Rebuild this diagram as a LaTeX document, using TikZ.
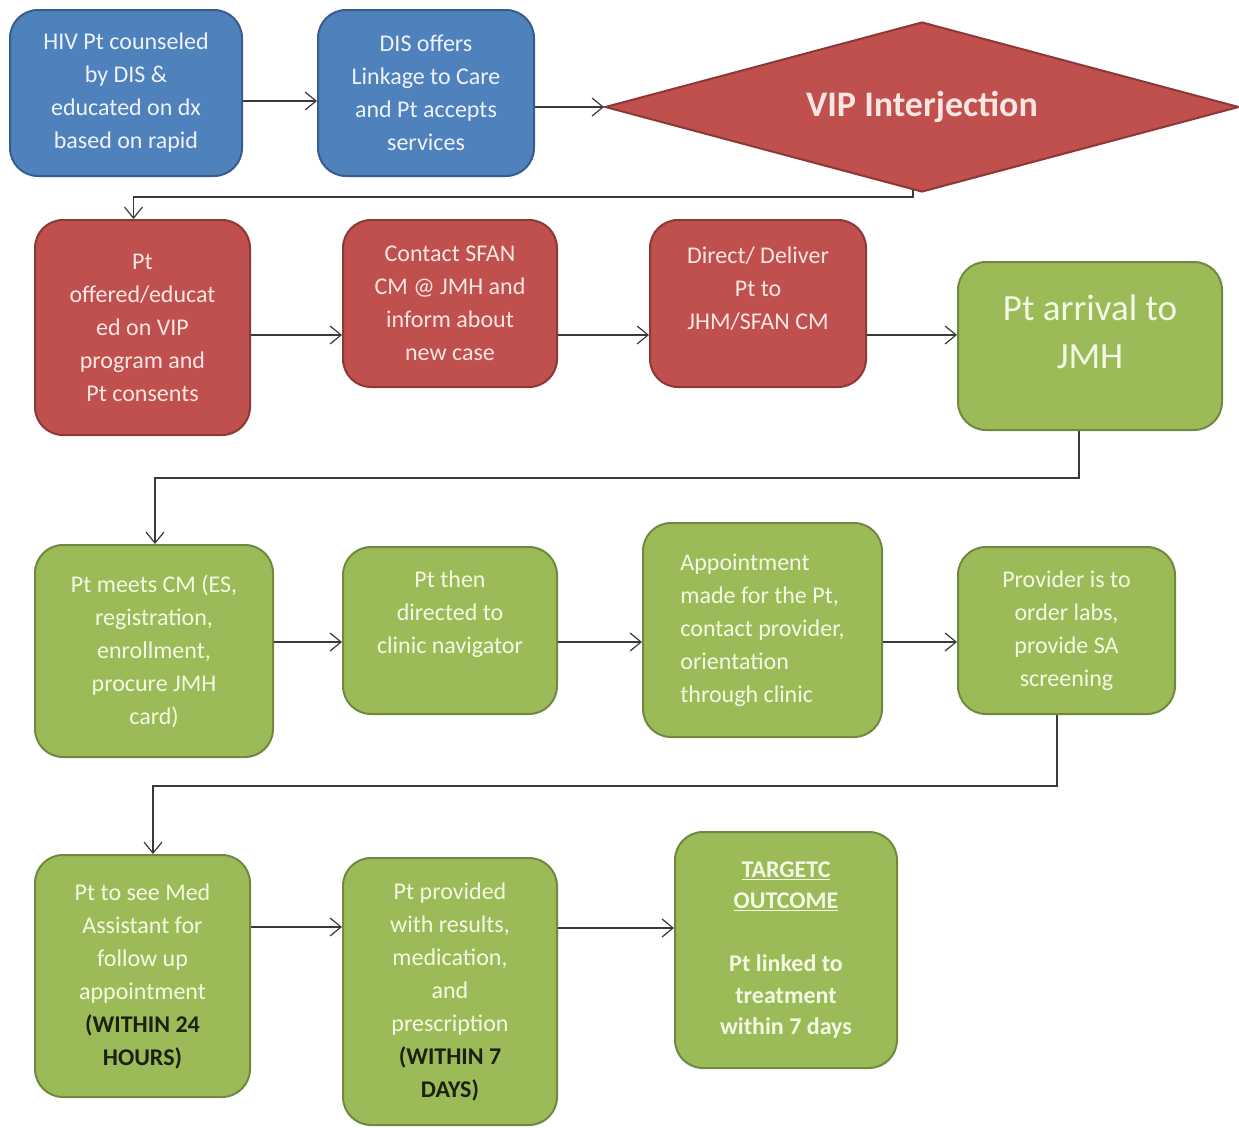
\documentclass[tikz,border=0pt]{standalone}
\usepackage{fontspec}
\setmainfont{Carlito}
\usetikzlibrary{arrows.meta,shapes.geometric}
\definecolor{bluefill}{HTML}{4F81BD}
\definecolor{blueline}{HTML}{385D8A}
\definecolor{bluetext}{HTML}{EEF3FB}
\definecolor{redfill}{HTML}{C0504D}
\definecolor{redline}{HTML}{8C3836}
\definecolor{redtext}{HTML}{FCE6E4}
\definecolor{greenfill}{HTML}{9BBB59}
\definecolor{greenline}{HTML}{71893F}
\definecolor{greentext}{HTML}{F4F9E4}
\definecolor{darktext}{HTML}{1C200F}
\definecolor{arrowgray}{HTML}{3A3A3A}
\begin{document}
\begin{tikzpicture}[x=1pt,y=-1pt,
  box/.style={draw, line width=2pt, rounded corners=28pt, align=center, inner sep=0pt,
    font=\fontsize{24}{33}\selectfont},
  bluebox/.style={box, fill=bluefill, draw=blueline, text=bluetext},
  redbox/.style={box, fill=redfill, draw=redline, text=redtext},
  greenbox/.style={box, fill=greenfill, draw=greenline, text=greentext},
  arr/.style={draw=arrowgray, line width=1.4pt,
    -{Straight Barb[length=11pt,width=18pt,line width=1.2pt]}}
]
\useasboundingbox (0,0) rectangle (1239,1127);
\fill[white] (0,0) rectangle (1239,1127);

% Row 1
\node[bluebox, minimum width=232pt, minimum height=166pt] (A) at (126,93)
  {HIV Pt counseled\\by DIS \&\\educated on dx\\based on rapid};
\node[bluebox, minimum width=216pt, minimum height=166pt] (B) at (426,93)
  {DIS offers\\Linkage to Care\\and Pt accepts\\services};
\node[diamond, aspect=3.73, draw=redline, line width=2pt, fill=redfill, text=redtext, inner sep=0pt,
  minimum width=634pt, minimum height=170pt,
  font=\fontsize{36}{40}\selectfont\bfseries] (VIP) at (922,107) {VIP Interjection};

% Row 2
\node[redbox, minimum width=215pt, minimum height=215pt] (C) at (142.5,327.5)
  {Pt\\offered/educat\\ed on VIP\\program and\\Pt consents};
\node[redbox, minimum width=214pt, minimum height=167pt] (D) at (450,303.5)
  {Contact SFAN\\CM @ JMH and\\inform about\\new case};
\node[redbox, minimum width=216pt, minimum height=167pt, text depth=31pt] (E) at (758,303.5)
  {Direct/ Deliver\\Pt to\\JHM/SFAN CM};
\node[greenbox, minimum width=264pt, minimum height=168pt, text depth=28pt,
  font=\fontsize{37}{48}\selectfont] (F) at (1090,346)
  {Pt arrival to\\JMH};

% Row 3
\node[greenbox, minimum width=238pt, minimum height=212pt] (G) at (154,651)
  {Pt meets CM (ES,\\registration,\\enrollment,\\procure JMH\\card)};
\node[greenbox, minimum width=214pt, minimum height=167pt, text depth=36pt] (H) at (450,630.5)
  {Pt then\\directed to\\clinic navigator};
\node[greenbox, minimum width=239pt, minimum height=214pt, align=left] (I) at (762.5,630)
  {Appointment\\made for the Pt,\\contact provider,\\orientation\\through clinic};
\node[greenbox, minimum width=217pt, minimum height=167pt] (J) at (1066.5,630.5)
  {Provider is to\\order labs,\\provide SA\\screening};

% Row 4
\node[greenbox, minimum width=215pt, minimum height=242pt] (K) at (142.5,976)
  {Pt to see Med\\Assistant for\\follow up\\appointment\\{\color{darktext}\bfseries (WITHIN 24}\\{\color{darktext}\bfseries HOURS)}};
\node[greenbox, minimum width=214pt, minimum height=267pt] (L) at (450,991.5)
  {Pt provided\\with results,\\medication,\\and\\prescription\\{\color{darktext}\bfseries (WITHIN 7}\\{\color{darktext}\bfseries DAYS)}};
\node[greenbox, minimum width=222pt, minimum height=236pt,
  font=\fontsize{24}{31.5}\selectfont\bfseries] (M) at (786,950)
  {\underline{TARGETC}\\\underline{OUTCOME}\\\mbox{}\\Pt linked to\\treatment\\within 7 days};

% Connectors
\draw[arr] ([yshift=-8pt]A.east) -- ([yshift=-8pt]B.west);
\draw[arr] ([yshift=-14pt]B.east) -- (VIP.west);
\draw[arr] ([xshift=-9pt,yshift=3pt]VIP.south) -- ([xshift=-9pt,yshift=-4pt]VIP.south)
  -| ([xshift=-9pt]C.north);
\draw[arr] (C.east |- 0,335) -- (D.west |- 0,335);
\draw[arr] (D.east |- 0,335) -- (E.west |- 0,335);
\draw[arr] (E.east |- 0,335) -- (F.west |- 0,335);
\draw[arr] ([xshift=-11pt]F.south) -- ++(0,47) -| ([xshift=1pt]G.north);
\draw[arr] (G.east |- 0,642) -- (H.west |- 0,642);
\draw[arr] (H.east |- 0,642) -- (I.west |- 0,642);
\draw[arr] (I.east |- 0,642) -- (J.west |- 0,642);
\draw[arr] ([xshift=-9.5pt]J.south) -- ++(0,71) -| ([xshift=10.5pt]K.north);
\draw[arr] (K.east |- 0,927) -- (L.west |- 0,927);
\draw[arr] (L.east |- 0,928) -- (M.west |- 0,928);
\end{tikzpicture}
\end{document}
